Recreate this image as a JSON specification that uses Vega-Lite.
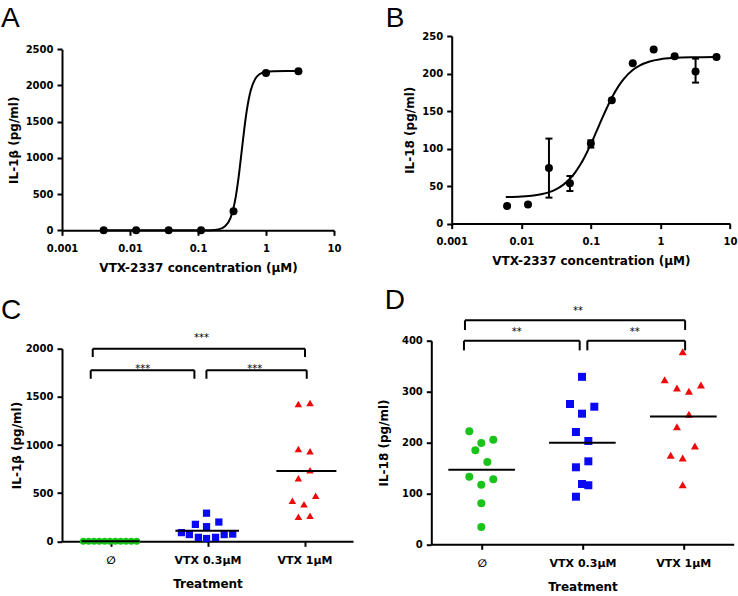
{
 "$schema": "https://vega.github.io/schema/vega-lite/v6.json",
 "background": "white",
 "padding": {"left": 1, "top": 5, "right": 0, "bottom": 0},
 "columns": 2,
 "spacing": {"row": 100.7, "column": 98.7},
 "bounds": "flush",
 "align": "all",
 "datasets": {
  "curveA": [
   {"conc": 0.004, "il": 0}, {"conc": 0.05, "il": 0}, {"conc": 0.1, "il": 0.14}, {"conc": 0.15, "il": 2.0},
   {"conc": 0.2, "il": 13}, {"conc": 0.25, "il": 54.5}, {"conc": 0.3, "il": 168.5}, {"conc": 0.33, "il": 293.8},
   {"conc": 0.36, "il": 469.6}, {"conc": 0.4, "il": 769.8}, {"conc": 0.44, "il": 1100}, {"conc": 0.48, "il": 1403},
   {"conc": 0.52, "il": 1645}, {"conc": 0.56, "il": 1820.5}, {"conc": 0.6, "il": 1941.4}, {"conc": 0.7, "il": 2097.4},
   {"conc": 0.8, "il": 2155.7}, {"conc": 1, "il": 2191.3}, {"conc": 1.3, "il": 2198.1}, {"conc": 2, "il": 2199.9}, {"conc": 3, "il": 2200}
  ],
  "ptsA": [
   {"conc": 0.0041, "il": 0}, {"conc": 0.0123, "il": 0}, {"conc": 0.037, "il": 0}, {"conc": 0.111, "il": 0},
   {"conc": 0.333, "il": 262}, {"conc": 1, "il": 2173}, {"conc": 3, "il": 2196}
  ],
  "curveB": [
   {"conc": 0.006, "il": 35.4}, {"conc": 0.01, "il": 36.1}, {"conc": 0.015, "il": 37.5}, {"conc": 0.02, "il": 39.5},
   {"conc": 0.03, "il": 44.7}, {"conc": 0.04, "il": 51.6}, {"conc": 0.05, "il": 59.8}, {"conc": 0.06, "il": 68.7},
   {"conc": 0.07, "il": 78.1}, {"conc": 0.08, "il": 87.5}, {"conc": 0.1, "il": 105.9}, {"conc": 0.12, "il": 122.5},
   {"conc": 0.15, "il": 143.2}, {"conc": 0.2, "il": 167.7}, {"conc": 0.25, "il": 183.2}, {"conc": 0.3, "il": 193.2},
   {"conc": 0.4, "il": 204.6}, {"conc": 0.5, "il": 210.5}, {"conc": 0.7, "il": 216}, {"conc": 1, "il": 219},
   {"conc": 1.5, "il": 220.6}, {"conc": 2, "il": 221.2}, {"conc": 3, "il": 221.6}, {"conc": 4, "il": 221.8}, {"conc": 6.4, "il": 221.9}
  ],
  "ptsB": [
   {"conc": 0.00625, "il": 23.5}, {"conc": 0.0125, "il": 25.3}, {"conc": 0.025, "il": 74}, {"conc": 0.05, "il": 53.7},
   {"conc": 0.1, "il": 106.6}, {"conc": 0.2, "il": 164.3}, {"conc": 0.4, "il": 213.6}, {"conc": 0.8, "il": 231.9},
   {"conc": 1.6, "il": 222.9}, {"conc": 3.2, "il": 202.6}, {"conc": 6.4, "il": 222}
  ],
  "errB": [
   {"conc": 0.025, "lo": 34.6, "hi": 113.3}, {"conc": 0.05, "lo": 43.4, "hi": 63.4},
   {"conc": 0.1, "lo": 101.3, "hi": 111}, {"conc": 3.2, "lo": 187.9, "hi": 219.9}
  ],
  "ptsC": [
   {"g": "ctrl", "x": 0.22, "v": 0}, {"g": "ctrl", "x": 0.275, "v": 0}, {"g": "ctrl", "x": 0.33, "v": 0}, {"g": "ctrl", "x": 0.385, "v": 0},
   {"g": "ctrl", "x": 0.44, "v": 0}, {"g": "ctrl", "x": 0.495, "v": 0}, {"g": "ctrl", "x": 0.55, "v": 0}, {"g": "ctrl", "x": 0.605, "v": 0},
   {"g": "ctrl", "x": 0.66, "v": 0}, {"g": "ctrl", "x": 0.715, "v": 0}, {"g": "ctrl", "x": 0.77, "v": 0},
   {"g": "low", "x": 1.231, "v": 90}, {"g": "low", "x": 1.313, "v": 70}, {"g": "low", "x": 1.375, "v": 176}, {"g": "low", "x": 1.406, "v": 41},
   {"g": "low", "x": 1.49, "v": 292}, {"g": "low", "x": 1.49, "v": 152}, {"g": "low", "x": 1.49, "v": 29}, {"g": "low", "x": 1.583, "v": 41},
   {"g": "low", "x": 1.617, "v": 200}, {"g": "low", "x": 1.672, "v": 70}, {"g": "low", "x": 1.76, "v": 75},
   {"g": "high", "x": 2.437, "v": 1426}, {"g": "high", "x": 2.557, "v": 1436}, {"g": "high", "x": 2.437, "v": 958}, {"g": "high", "x": 2.557, "v": 935},
   {"g": "high", "x": 2.557, "v": 737}, {"g": "high", "x": 2.437, "v": 654}, {"g": "high", "x": 2.375, "v": 422}, {"g": "high", "x": 2.615, "v": 474},
   {"g": "high", "x": 2.495, "v": 384}, {"g": "high", "x": 2.437, "v": 255}, {"g": "high", "x": 2.557, "v": 266}
  ],
  "meanC": [
   {"x": 0.2, "x2": 0.8, "v": 0}, {"x": 1.169, "x2": 1.825, "v": 110}, {"x": 2.21, "x2": 2.829, "v": 730}
  ],
  "brC": [
   {"x": 0.317, "x2": 2.505, "v": 2000, "v2": 2000}, {"x": 0.317, "x2": 0.317, "v": 2000, "v2": 1914}, {"x": 2.505, "x2": 2.505, "v": 2000, "v2": 1914},
   {"x": 0.296, "x2": 1.365, "v": 1776, "v2": 1776}, {"x": 0.296, "x2": 0.296, "v": 1776, "v2": 1688}, {"x": 1.365, "x2": 1.365, "v": 1776, "v2": 1688},
   {"x": 1.489, "x2": 2.523, "v": 1776, "v2": 1776}, {"x": 1.489, "x2": 1.489, "v": 1776, "v2": 1688}, {"x": 2.523, "x2": 2.523, "v": 1776, "v2": 1688}
  ],
  "starsC": [
   {"x": 1.437, "v": 2082, "t": "***"}, {"x": 0.832, "v": 1758, "t": "***"}, {"x": 1.987, "v": 1758, "t": "***"}
  ],
  "ptsD": [
   {"g": "ctrl", "x": 0.377, "v": 222}, {"g": "ctrl", "x": 0.496, "v": 199}, {"g": "ctrl", "x": 0.615, "v": 205.5}, {"g": "ctrl", "x": 0.437, "v": 184.7},
   {"g": "ctrl", "x": 0.556, "v": 161.7}, {"g": "ctrl", "x": 0.377, "v": 132.8}, {"g": "ctrl", "x": 0.615, "v": 127.7}, {"g": "ctrl", "x": 0.496, "v": 117},
   {"g": "ctrl", "x": 0.496, "v": 80.5}, {"g": "ctrl", "x": 0.496, "v": 34},
   {"g": "low", "x": 1.495, "v": 329}, {"g": "low", "x": 1.376, "v": 275.6}, {"g": "low", "x": 1.617, "v": 270.3}, {"g": "low", "x": 1.495, "v": 256.6},
   {"g": "low", "x": 1.435, "v": 220.6}, {"g": "low", "x": 1.558, "v": 203}, {"g": "low", "x": 1.558, "v": 163}, {"g": "low", "x": 1.435, "v": 151.3},
   {"g": "low", "x": 1.495, "v": 118.5}, {"g": "low", "x": 1.558, "v": 116}, {"g": "low", "x": 1.435, "v": 93.5},
   {"g": "high", "x": 2.494, "v": 378.4}, {"g": "high", "x": 2.315, "v": 323.4}, {"g": "high", "x": 2.437, "v": 307}, {"g": "high", "x": 2.556, "v": 300.6},
   {"g": "high", "x": 2.675, "v": 313}, {"g": "high", "x": 2.556, "v": 255.4}, {"g": "high", "x": 2.437, "v": 231}, {"g": "high", "x": 2.615, "v": 193},
   {"g": "high", "x": 2.375, "v": 174.9}, {"g": "high", "x": 2.494, "v": 169.5}, {"g": "high", "x": 2.494, "v": 117}
  ],
  "meanD": [
   {"x": 0.169, "x2": 0.83, "v": 146.5}, {"x": 1.168, "x2": 1.829, "v": 199.7}, {"x": 2.17, "x2": 2.831, "v": 251.3}
  ],
  "brD": [
   {"x": 0.334, "x2": 2.518, "v": 440, "v2": 440}, {"x": 0.334, "x2": 0.334, "v": 440, "v2": 421}, {"x": 2.518, "x2": 2.518, "v": 440, "v2": 421},
   {"x": 0.324, "x2": 1.472, "v": 400, "v2": 400}, {"x": 0.324, "x2": 0.324, "v": 400, "v2": 381}, {"x": 1.472, "x2": 1.472, "v": 400, "v2": 381},
   {"x": 1.548, "x2": 2.518, "v": 400, "v2": 400}, {"x": 1.548, "x2": 1.548, "v": 400, "v2": 381}, {"x": 2.518, "x2": 2.518, "v": 400, "v2": 381}
  ],
  "starsD": [
   {"x": 1.455, "v": 453, "t": "**"}, {"x": 0.847, "v": 410.6, "t": "**"}, {"x": 2.018, "v": 410.6, "t": "**"}
  ]
 },
 "concat": [
  {
   "width": 272, "height": 194.3,
   "title": {"text": "A", "dx": -61, "dy": 5.3, "offset": 8},
   "encoding": {
    "x": {"field": "conc", "type": "quantitative", "scale": {"type": "log", "domain": [0.001, 10], "range": [0, 272], "nice": false},
          "axis": {"values": [0.001, 0.01, 0.1, 1, 10], "format": "~g", "title": "VTX-2337 concentration (μM)", "labelPadding": 8, "titlePadding": 9}},
    "y": {"field": "il", "type": "quantitative", "scale": {"domain": [0, 2500], "range": [194.3, 13.3], "nice": false},
          "axis": {"values": [0, 500, 1000, 1500, 2000, 2500], "format": "d", "title": "IL-1β (pg/ml)", "titlePadding": 5}}
   },
   "layer": [
    {"data": {"name": "curveA"}, "mark": {"type": "line", "color": "black", "strokeWidth": 2, "interpolate": "monotone"}},
    {"data": {"name": "ptsA"}, "mark": {"type": "circle", "color": "black", "size": 64, "opacity": 1}}
   ]
  },
  {
   "width": 278.3, "height": 187.6,
   "title": {"text": "B", "dx": -66, "dy": 10.3, "offset": 8},
   "encoding": {
    "x": {"field": "conc", "type": "quantitative", "scale": {"type": "log", "domain": [0.001, 10], "range": [0, 278.3], "nice": false},
          "axis": {"values": [0.001, 0.01, 0.1, 1, 10], "format": "~g", "title": "VTX-2337 concentration (μM)", "labelPadding": 8, "titlePadding": 9}},
    "y": {"field": "il", "type": "quantitative", "scale": {"domain": [0, 250], "range": [187.6, 0], "nice": false},
          "axis": {"values": [0, 50, 100, 150, 200, 250], "format": "d", "title": "IL-18 (pg/ml)", "titlePadding": 5}}
   },
   "layer": [
    {"data": {"name": "curveB"}, "mark": {"type": "line", "color": "black", "strokeWidth": 2, "interpolate": "monotone"}},
    {"data": {"name": "errB"}, "mark": {"type": "rule", "color": "black", "strokeWidth": 2},
     "encoding": {"y": {"field": "lo", "type": "quantitative"}, "y2": {"field": "hi"}}},
    {"data": {"name": "errB"}, "mark": {"type": "tick", "orient": "horizontal", "color": "black", "size": 7, "thickness": 2, "opacity": 1},
     "encoding": {"y": {"field": "lo", "type": "quantitative"}}},
    {"data": {"name": "errB"}, "mark": {"type": "tick", "orient": "horizontal", "color": "black", "size": 7, "thickness": 2, "opacity": 1},
     "encoding": {"y": {"field": "hi", "type": "quantitative"}}},
    {"data": {"name": "ptsB"}, "mark": {"type": "circle", "color": "black", "size": 64, "opacity": 1}}
   ]
  },
  {
   "width": 291, "height": 200.6,
   "title": {"text": "C", "dx": -61, "offset": 8},
   "encoding": {
    "x": {"field": "x", "type": "quantitative", "scale": {"domain": [0, 3], "range": [0, 291], "nice": false, "zero": false},
          "axis": {"values": [0.5, 1.5, 2.5], "labelExpr": "datum.value < 1 ? '∅' : datum.value < 2 ? 'VTX 0.3μM' : 'VTX 1μM'", "title": "Treatment", "labelFontSize": 11, "labelPadding": 8.5, "titlePadding": 13}},
    "y": {"field": "v", "type": "quantitative", "scale": {"domain": [0, 2000], "range": [200.6, 8], "nice": false},
          "axis": {"values": [0, 500, 1000, 1500, 2000], "format": "d", "title": "IL-1β (pg/ml)", "titlePadding": 2}}
   },
   "layer": [
    {"data": {"name": "ptsC"}, "mark": {"type": "point", "filled": true, "opacity": 1, "strokeWidth": 0},
     "encoding": {
      "shape": {"field": "g", "type": "nominal", "scale": {"domain": ["ctrl", "low", "high"], "range": ["circle", "square", "triangle-up"]}, "legend": null},
      "color": {"field": "g", "type": "nominal", "scale": {"domain": ["ctrl", "low", "high"], "range": ["#19c419", "#0a0af2", "#ee0a0a"]}, "legend": null},
      "size": {"field": "g", "type": "nominal", "scale": {"domain": ["ctrl", "low", "high"], "range": [49, 56, 64]}, "legend": null}
     }},
    {"data": {"name": "meanC"}, "mark": {"type": "rule", "color": "black", "strokeWidth": 2}, "encoding": {"x2": {"field": "x2"}}},
    {"data": {"name": "brC"}, "mark": {"type": "rule", "color": "black", "strokeWidth": 2}, "encoding": {"x2": {"field": "x2"}, "y2": {"field": "v2"}}},
    {"data": {"name": "starsC"}, "mark": {"type": "text", "font": "DejaVu Sans", "fontSize": 10, "color": "black", "align": "center", "baseline": "alphabetic"},
     "encoding": {"text": {"field": "t"}}}
   ]
  },
  {
   "width": 282, "height": 203.6,
   "title": {"text": "D", "dx": -67, "dy": 17, "offset": 8},
   "encoding": {
    "x": {"field": "x", "type": "quantitative", "scale": {"domain": [0, 3], "range": [-20.4, 282], "nice": false, "zero": false},
          "axis": {"values": [0.5, 1.5, 2.5], "labelExpr": "datum.value < 1 ? '∅' : datum.value < 2 ? 'VTX 0.3μM' : 'VTX 1μM'", "title": "Treatment", "labelFontSize": 11, "labelPadding": 8.5, "titlePadding": 13}},
    "y": {"field": "v", "type": "quantitative", "scale": {"domain": [0, 400], "nice": false},
          "axis": {"values": [0, 100, 200, 300, 400], "format": "d", "title": "IL-18 (pg/ml)", "titlePadding": 11, "offset": 20.4}}
   },
   "layer": [
    {"data": {"name": "ptsD"}, "mark": {"type": "point", "filled": true, "opacity": 1, "strokeWidth": 0},
     "encoding": {
      "shape": {"field": "g", "type": "nominal", "scale": {"domain": ["ctrl", "low", "high"], "range": ["circle", "square", "triangle-up"]}, "legend": null},
      "color": {"field": "g", "type": "nominal", "scale": {"domain": ["ctrl", "low", "high"], "range": ["#19c419", "#0a0af2", "#ee0a0a"]}, "legend": null},
      "size": {"field": "g", "type": "nominal", "scale": {"domain": ["ctrl", "low", "high"], "range": [64, 64, 72]}, "legend": null}
     }},
    {"data": {"name": "meanD"}, "mark": {"type": "rule", "color": "black", "strokeWidth": 2}, "encoding": {"x2": {"field": "x2"}}},
    {"data": {"name": "brD"}, "mark": {"type": "rule", "color": "black", "strokeWidth": 2}, "encoding": {"x2": {"field": "x2"}, "y2": {"field": "v2"}}},
    {"data": {"name": "starsD"}, "mark": {"type": "text", "font": "DejaVu Sans", "fontSize": 10, "color": "black", "align": "center", "baseline": "alphabetic"},
     "encoding": {"text": {"field": "t"}}}
   ]
  }
 ],
 "resolve": {"scale": {"shape": "independent", "color": "independent", "size": "independent"}},
 "config": {
  "view": {"stroke": null},
  "title": {"anchor": "start", "frame": "group", "font": "Liberation Sans", "fontSize": 28, "fontWeight": "normal", "color": "black"},
  "axis": {"grid": false, "domainColor": "black", "domainWidth": 2, "tickColor": "black", "tickWidth": 2, "tickSize": 5,
           "labelFont": "DejaVu Sans", "labelFontWeight": "bold", "labelFontSize": 10, "labelColor": "black", "labelPadding": 4,
           "titleFont": "DejaVu Sans", "titleFontWeight": "bold", "titleFontSize": 12, "titleColor": "black",
           "labelOverlap": false, "labelFlush": false}
 }
}
